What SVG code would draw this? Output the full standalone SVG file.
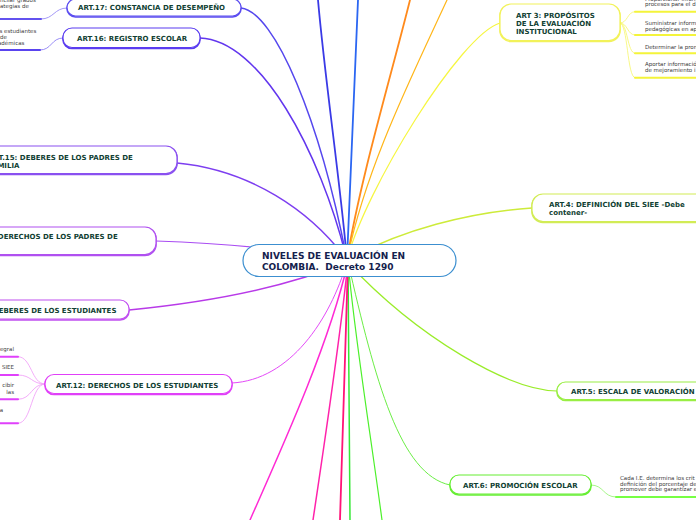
<svg xmlns="http://www.w3.org/2000/svg" width="696" height="520" viewBox="0 0 696 520">
<style>
.n{font-family:"DejaVu Sans",Verdana,sans-serif;font-weight:bold;font-size:7px;fill:#113f33}
.c{font-family:"DejaVu Sans",Verdana,sans-serif;font-weight:bold;font-size:9px;fill:#14214d}
.t{font-family:"DejaVu Sans",Verdana,sans-serif;font-size:5.5px;fill:#3c3c3c}
.b{fill:#fff;stroke-width:1.2}
.s{fill:#fff;stroke-width:1.6}
#connectors path{fill:none;stroke-linecap:round}
.u{stroke-width:2}
.f{stroke-width:0.9}
</style>
<rect width="696" height="520" fill="#fff"/>
<g id="connectors">
<path d="M241,8 C275,12 320,120 347,260" stroke="#5547ee" stroke-width="1.5"/>
<path d="M200,38 C260,40 320,150 347,260" stroke="#6236ee" stroke-width="1.5"/>
<path d="M318,0 C325,80 340,180 347,260" stroke="#3a3ae6" stroke-width="1.8"/>
<path d="M358,0 C355,80 350,180 347,260" stroke="#2b66f2" stroke-width="1.8"/>
<path d="M410,0 C390,80 360,180 347,260" stroke="#ff8a1c" stroke-width="1.8"/>
<path d="M447,0 C410,80 365,170 347,260" stroke="#ffb619" stroke-width="1.2"/>
<path d="M500,23 C460,35 365,190 347,260" stroke="#f6f640" stroke-width="1.2"/>
<path d="M532,208 C470,212 400,230 347,260" stroke="#cdeb3a" stroke-width="1.5"/>
<path d="M557,391 C510,390 420,340 347,262" stroke="#9aec2a" stroke-width="1.2"/>
<path d="M450,485 C400,475 375,380 348,262" stroke="#6bee45" stroke-width="1"/>
<path d="M382,520 C370,430 355,340 348,262" stroke="#4cf02a" stroke-width="1.2"/>
<path d="M350,520 L348,262" stroke="#35e835" stroke-width="1.5"/>
<path d="M340,520 C342,430 345,340 348,262" stroke="#ff1478" stroke-width="1.8"/>
<path d="M313,520 C325,440 340,340 348,262" stroke="#ff22aa" stroke-width="1.5"/>
<path d="M250,520 C290,430 330,340 348,262" stroke="#ff2ad4" stroke-width="1.5"/>
<path d="M232,383 C290,380 330,320 347,262" stroke="#e44af8" stroke-width="1"/>
<path d="M129,310 C200,303 280,290 347,262" stroke="#b83ae8" stroke-width="1.5"/>
<path d="M156,241 C220,243 280,248 347,260" stroke="#a94cf2" stroke-width="1.2"/>
<path d="M177,163 C250,170 310,210 347,260" stroke="#7d3ef0" stroke-width="1.5"/>
<!-- child branches -->
<path class="f" d="M41,19 C54,19 54,8 67,8" stroke="#9a8df5"/>
<path class="u" d="M0,19 L41,19" stroke="#6352ef"/>
<path class="f" d="M40,50 C52,50 51,38 63,38" stroke="#8f80f5"/>
<path class="u" d="M0,50 L40,50" stroke="#5a44ef"/>
<path class="f" d="M620,23 C628,23 627,11.7 635,11.7" stroke="#f7f77a"/>
<path class="f" d="M620,23 C628,23 627,35 635,35" stroke="#f7f77a"/>
<path class="f" d="M620,23 C628,23 627,53.3 635,53.3" stroke="#f7f77a"/>
<path class="f" d="M620,23 C628,23 627,77.7 635,77.7" stroke="#f7f77a"/>
<path class="u" d="M635,11.7 L696,11.7" stroke="#f4f43a"/>
<path class="u" d="M635,35 L696,35" stroke="#f4f43a"/>
<path class="u" d="M635,53.3 L696,53.3" stroke="#f4f43a"/>
<path class="u" d="M635,77.7 L696,77.7" stroke="#f4f43a"/>
<path class="f" d="M45,384 C31,384 32,356.7 18,356.7" stroke="#f2a4f8"/>
<path class="f" d="M45,384 C31,384 32,375 18,375" stroke="#f2a4f8"/>
<path class="f" d="M45,384 C31,384 32,399.3 18,399.3" stroke="#f2a4f8"/>
<path class="f" d="M45,384 C31,384 32,423.3 18,423.3" stroke="#f2a4f8"/>
<path class="u" d="M0,356.7 L18,356.7" stroke="#e040fb"/>
<path class="u" d="M0,375 L18,375" stroke="#e040fb"/>
<path class="u" d="M0,399.3 L18,399.3" stroke="#e040fb"/>
<path class="u" d="M0,423.3 L18,423.3" stroke="#e040fb"/>
<path class="f" d="M591,485 C604,485 603,497 616,497" stroke="#9cf57a"/>
<path class="u" d="M616,497 L696,497" stroke="#77ff44"/>
</g>
<g id="center">
<rect x="243" y="244.5" width="213" height="32" rx="16" fill="#fff" stroke="#3c8fd0" stroke-width="1.2"/>
<text class="c" x="262" y="259">NIVELES DE EVALUACIÓN EN</text>
<text class="c" x="262" y="269.5" xml:space="preserve">COLOMBIA.  Decreto 1290</text>
</g>
<g id="art17">
<rect class="s" x="67" y="0" width="174" height="17" rx="8.5" stroke="#5b4cf0"/>
<rect class="b" x="67" y="-1" width="174" height="17" rx="8.5" stroke="#5b4cf0"/>
<text class="n" x="78" y="10">ART.17: CONSTANCIA DE DESEMPEÑO</text>
<text class="t" x="0" y="2">ncilar grados</text>
<text class="t" x="0" y="8.3">ategias de</text>
</g>
<g id="art16">
<rect class="s" x="63" y="29" width="137" height="19.5" rx="9" stroke="#5a3cf0"/>
<rect class="b" x="63" y="28" width="137" height="19.5" rx="9" stroke="#5a3cf0"/>
<text class="n" x="77" y="41">ART.16: REGISTRO ESCOLAR</text>
<text class="t" x="-0.5" y="33">s estudiantes</text>
<text class="t" x="0" y="38.5">de</text>
<text class="t" x="-2" y="44.5">adémicas</text>
</g>
<g id="art3">
<rect class="s" x="500" y="5" width="120" height="36.5" rx="11" stroke="#f2f25a"/>
<rect class="b" x="500" y="4" width="120" height="36.5" rx="11" stroke="#f2f25a"/>
<text class="n" x="516" y="17.7">ART 3: PROPÓSITOS</text>
<text class="n" x="516" y="26">DE LA EVALUACIÓN</text>
<text class="n" x="516" y="34.3">INSTITUCIONAL</text>
<text class="t" x="645" y="0.8">Proporcionar inform</text>
<text class="t" x="645" y="6.2">procesos para el d</text>
<text class="t" x="645" y="25">Suministrar inform</text>
<text class="t" x="645" y="30.7">pedagógicas en ap</text>
<text class="t" x="645" y="49">Determinar la prom</text>
<text class="t" x="645" y="66">Aportar informació</text>
<text class="t" x="645" y="71.7">de mejoramiento i</text>
</g>
<g id="art4">
<rect class="s" x="532" y="195" width="180" height="27.5" rx="11" stroke="#d2ec55"/>
<rect class="b" x="532" y="194" width="180" height="27.5" rx="11" stroke="#d2ec55"/>
<text class="n" x="549" y="206.7">ART.4: DEFINICIÓN DEL SIEE -Debe</text>
<text class="n" x="549" y="214.5">contener-</text>
</g>
<g id="art5">
<rect class="s" x="557" y="383" width="160" height="17.5" rx="8.5" stroke="#99ee44"/>
<rect class="b" x="557" y="382" width="160" height="17.5" rx="8.5" stroke="#99ee44"/>
<text class="n" x="571" y="394">ART.5: ESCALA DE VALORACIÓN</text>
</g>
<g id="art6">
<rect class="s" x="450" y="476" width="141" height="19" rx="9" stroke="#66ee33"/>
<rect class="b" x="450" y="475" width="141" height="19" rx="9" stroke="#66ee33"/>
<text class="n" x="463" y="487.7">ART.6: PROMOCIÓN ESCOLAR</text>
<text class="t" x="620" y="480">Cada I.E. determina los crit</text>
<text class="t" x="620" y="485.5">definición del porcentaje de</text>
<text class="t" x="620" y="491">promover debe garantizar e</text>
</g>
<g id="art12">
<rect class="s" x="45" y="375.5" width="187" height="19" rx="9" stroke="#e040f8"/>
<rect class="b" x="45" y="374.5" width="187" height="19" rx="9" stroke="#e040f8"/>
<text class="n" x="56" y="387.5">ART.12: DERECHOS DE LOS ESTUDIANTES</text>
<text class="t" x="14" y="351" text-anchor="end">egral</text>
<text class="t" x="14" y="369" text-anchor="end">SIEE</text>
<text class="t" x="14" y="387" text-anchor="end">cibir</text>
<text class="t" x="14" y="393.5" text-anchor="end">las</text>
<text class="t" x="3" y="412" text-anchor="end">a</text>
</g>
<g id="art13">
<rect class="s" x="-60" y="301" width="189" height="19" rx="9" stroke="#c050f0"/>
<rect class="b" x="-60" y="300" width="189" height="19" rx="9" stroke="#c050f0"/>
<text class="n" x="-39" y="313">ART.13: DEBERES DE LOS ESTUDIANTES</text>
</g>
<g id="art14">
<rect class="s" x="-60" y="228" width="216" height="27.5" rx="11" stroke="#b050f0"/>
<rect class="b" x="-60" y="227" width="216" height="27.5" rx="11" stroke="#b050f0"/>
<text class="n" x="-34" y="239">ART.14: DERECHOS DE LOS PADRES DE</text>
</g>
<g id="art15">
<rect class="s" x="-60" y="147" width="237" height="27.5" rx="11" stroke="#8a50f0"/>
<rect class="b" x="-60" y="146" width="237" height="27.5" rx="11" stroke="#8a50f0"/>
<text class="n" x="-12" y="159.5">ART.15: DEBERES DE LOS PADRES DE</text>
<text class="n" x="-12" y="167.5">FAMILIA</text>
</g>
</svg>
